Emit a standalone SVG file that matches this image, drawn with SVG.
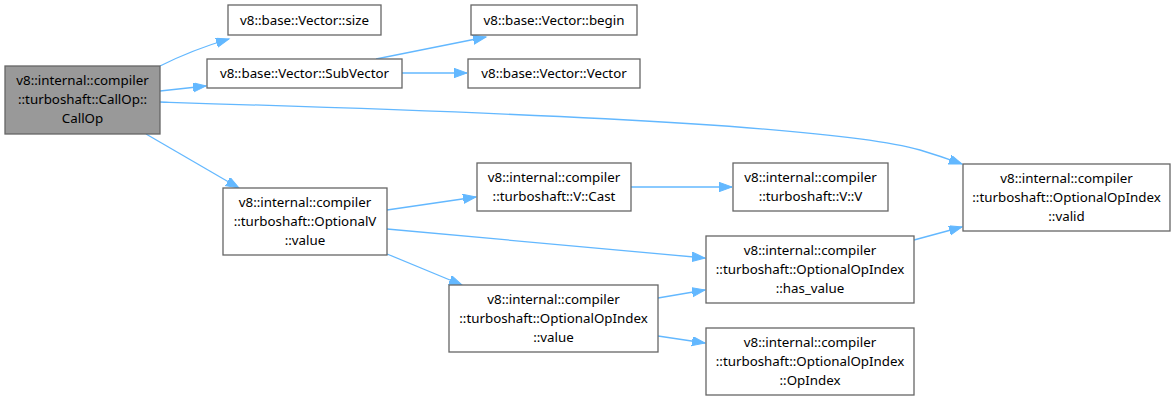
<svg xmlns="http://www.w3.org/2000/svg" width="1176" height="401" viewBox="0 0 1176 401">
<style>
.n rect{fill:#fff;stroke:#666;stroke-width:1.3}
#callop rect{fill:#999}
text{font-family:"Noto Sans","Open Sans",sans-serif;font-size:13.33px;fill:#000;text-anchor:middle}
.e path{fill:none;stroke:#63b8ff;stroke-width:1.3}
</style>
<defs>
<marker id="ah" markerUnits="userSpaceOnUse" markerWidth="15" markerHeight="12" refX="13" refY="4.7" orient="auto">
<path d="M0,0 L13,4.7 L0,9.4 Z" fill="#63b8ff" stroke="#63b8ff"/>
</marker>
</defs>
<rect width="1176" height="401" fill="#fff"/>
<g class="e">
<path d="M160,66 C180,56 205,46 229,39" marker-end="url(#ah)"/>
<path d="M160,91 L206,86" marker-end="url(#ah)"/>
<path d="M160,102 C420,110 820,122 920,150 Q940,156 962,164" marker-end="url(#ah)"/>
<path d="M146,134 L239,188" marker-end="url(#ah)"/>
<path d="M376,59 L486,37" marker-end="url(#ah)"/>
<path d="M402,73 L467,73" marker-end="url(#ah)"/>
<path d="M387,210 L476,197" marker-end="url(#ah)"/>
<path d="M387,229 L705,258" marker-end="url(#ah)"/>
<path d="M387,254 L462,285" marker-end="url(#ah)"/>
<path d="M631,187 L732,187" marker-end="url(#ah)"/>
<path d="M914,240 L962,227" marker-end="url(#ah)"/>
<path d="M658,298 L705,290" marker-end="url(#ah)"/>
<path d="M658,336 L705,343" marker-end="url(#ah)"/>
</g>
<g id="callop" class="n"><rect x="5" y="66" width="155" height="68"/>
<text x="82.5" y="85">v8::internal::compiler</text><text x="82.5" y="104">::turboshaft::CallOp::</text><text x="82.5" y="123">CallOp</text></g>
<g id="size" class="n"><rect x="228" y="5" width="153" height="30"/><text x="304.5" y="24.5">v8::base::Vector::size</text></g>
<g id="subvector" class="n"><rect x="207" y="59" width="195" height="29"/><text x="304.5" y="78">v8::base::Vector::SubVector</text></g>
<g id="begin" class="n"><rect x="471" y="5" width="166" height="30"/><text x="554" y="24.5">v8::base::Vector::begin</text></g>
<g id="vector" class="n"><rect x="468" y="59" width="172" height="29"/><text x="554" y="78">v8::base::Vector::Vector</text></g>
<g id="optv_value" class="n"><rect x="223" y="188" width="164" height="67"/>
<text x="305" y="206.5">v8::internal::compiler</text><text x="305" y="225.5">::turboshaft::OptionalV</text><text x="305" y="244.5">::value</text></g>
<g id="cast" class="n"><rect x="477" y="163" width="154" height="48"/>
<text x="554" y="182">v8::internal::compiler</text><text x="554" y="201">::turboshaft::V::Cast</text></g>
<g id="vv" class="n"><rect x="733" y="163" width="155" height="48"/>
<text x="810.5" y="182">v8::internal::compiler</text><text x="810.5" y="201">::turboshaft::V::V</text></g>
<g id="has_value" class="n"><rect x="706" y="236" width="208" height="67"/>
<text x="810" y="254.5">v8::internal::compiler</text><text x="810" y="273.5">::turboshaft::OptionalOpIndex</text><text x="810" y="292.5">::has_value</text></g>
<g id="opi_value" class="n"><rect x="449" y="285" width="209" height="67"/>
<text x="553.5" y="303.5">v8::internal::compiler</text><text x="553.5" y="322.5">::turboshaft::OptionalOpIndex</text><text x="553.5" y="341.5">::value</text></g>
<g id="opindex" class="n"><rect x="706" y="328" width="208" height="67"/>
<text x="810" y="346.5">v8::internal::compiler</text><text x="810" y="365.5">::turboshaft::OptionalOpIndex</text><text x="810" y="384.5">::OpIndex</text></g>
<g id="valid" class="n"><rect x="963" y="164" width="207" height="67"/>
<text x="1066.5" y="182.5">v8::internal::compiler</text><text x="1066.5" y="201.5">::turboshaft::OptionalOpIndex</text><text x="1066.5" y="220.5">::valid</text></g>
</svg>
